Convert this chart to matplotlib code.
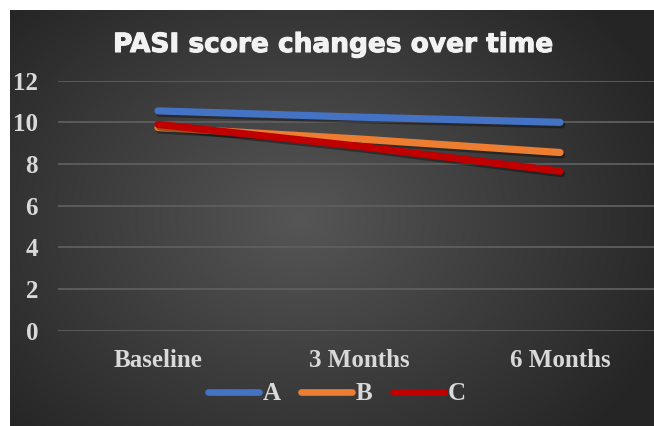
import numpy as np
import matplotlib
matplotlib.use("Agg")
import matplotlib.pyplot as plt
import matplotlib.patheffects as pe

categories = ["Baseline", "3 Months", "6 Months"]
series_names = ["A", "B", "C"]
values_A = [10.55, 10.25, 10.0]
values_B = [9.75, 9.2, 8.55]
values_C = [9.9, 8.85, 7.65]
yticks = [0, 2, 4, 6, 8, 10, 12]
colors = ["#4472C4", "#ED7D31", "#C00000"]
title = "PASI score changes over time"

W, H = 654, 426
fig = plt.figure(figsize=(W / 100, H / 100), dpi=100)
fig.patch.set_facecolor("white")

# background radial gradient
bg = fig.add_axes([10 / W, 0, (W - 10) / W, (H - 10) / H])
bg.set_axis_off()
ny, nx = 300, 460
yy, xx = np.mgrid[0:ny, 0:nx]
cx, cy = nx * 0.45, ny * 0.5
r = np.sqrt(((xx - cx) / (nx * 0.62)) ** 2 + ((yy - cy) / (ny * 0.75)) ** 2)
r = np.clip(r, 0, 1)
inner, outer = np.array([0x56, 0x56, 0x56]) / 255, np.array([0x25, 0x25, 0x25]) / 255
img = inner[None, None, :] * (1 - r[..., None]) + outer[None, None, :] * r[..., None]
bg.imshow(img, aspect="auto", extent=[0, 1, 0, 1], interpolation="bilinear")
bg.set_xlim(0, 1)
bg.set_ylim(0, 1)

# main axes
left_px, right_px = 57.5, 660.5
bottom_px, top_px = 330.5, 80.7
ax = fig.add_axes([left_px / W, 1 - bottom_px / H, (right_px - left_px) / W,
                   (bottom_px - top_px) / H])
ax.patch.set_alpha(0)
x = np.arange(len(categories))
text_color = "#d9d9d9"
serif = ["Liberation Serif", "DejaVu Serif"]
fs = 18

for vals, name, c in zip([values_A, values_B, values_C], series_names, colors):
    ax.plot(x, vals, color=c, lw=5.2, solid_capstyle="round", label=name,
            path_effects=[pe.SimpleLineShadow(offset=(1.2, -1.8), shadow_color="black", alpha=0.35),
                          pe.Normal()], zorder=3)

ax.set_xlim(-0.5, 2.5)
ax.set_ylim(0, 12)
ax.set_yticks(yticks)
ax.set_yticklabels([str(t) for t in yticks])
ax.set_xticks(x)
ax.set_xticklabels(categories)
ax.grid(axis="y", color="#5e5e5e", lw=1.3, zorder=0)
ax.set_axisbelow(True)
for s in ax.spines.values():
    s.set_visible(False)
ax.tick_params(axis="both", length=0, colors=text_color)
ax.tick_params(axis="y", pad=14)
ax.tick_params(axis="x", pad=13)
for lab in ax.get_xticklabels() + ax.get_yticklabels():
    lab.set_fontfamily(serif)
    lab.set_fontweight("bold")
    lab.set_fontsize(fs)
    lab.set_color(text_color)

fig.text(333 / W, 1 - 45 / H, title, ha="center", va="center", color="#f2f2f2",
         fontsize=19, fontweight="bold", family="DejaVu Sans",
         path_effects=[pe.withStroke(linewidth=0.8, foreground="#f2f2f2")])

leg = fig.legend(loc="center", bbox_to_anchor=(337 / W, 1 - 394 / H), ncol=3, frameon=False,
                 handlelength=2.05, handletextpad=0.15, columnspacing=0.8,
                 prop={"family": serif, "weight": "bold", "size": fs})
for t in leg.get_texts():
    t.set_color(text_color)
for h in leg.legend_handles:
    h.set_linewidth(4.8)
    h.set_solid_capstyle("round")
    h.set_path_effects([])

fig.savefig("out.png", dpi=100, facecolor=fig.get_facecolor())
